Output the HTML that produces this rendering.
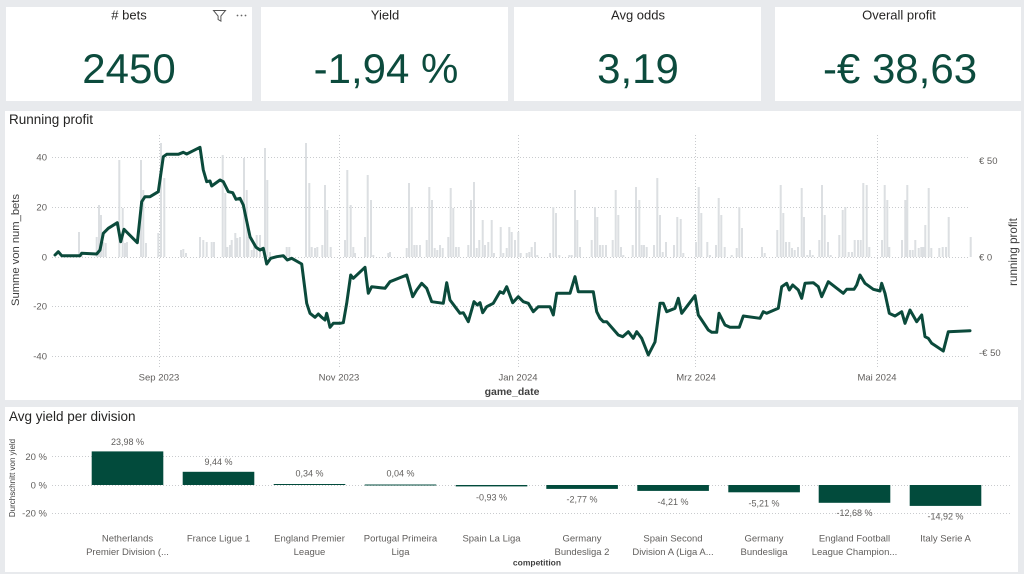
<!DOCTYPE html>
<html><head><meta charset="utf-8"><style>
html,body{margin:0;padding:0;background:#e8eaed;}
svg{display:block;font-family:"Liberation Sans",sans-serif;}
</style></head><body>
<svg width="1024" height="574" viewBox="0 0 1024 574" xmlns="http://www.w3.org/2000/svg">
<rect x="0" y="0" width="1024" height="574" fill="#e8eaed"/>
<!-- KPI cards -->
<rect x="6" y="7" width="246" height="94" fill="#fff"/>
<rect x="261" y="7" width="247" height="94" fill="#fff"/>
<rect x="514" y="7" width="247" height="94" fill="#fff"/>
<rect x="775" y="7" width="246" height="94" fill="#fff"/>
<g font-size="13" fill="#252423" text-anchor="middle">
<text x="129" y="19.5"># bets</text>
<text x="385" y="19.5">Yield</text>
<text x="638" y="19.5">Avg odds</text>
<text x="899" y="19.5">Overall profit</text>
</g>
<g font-size="42" fill="#0c4b3d" text-anchor="middle">
<text x="129" y="83">2450</text>
<text x="386" y="83">-1,94 %</text>
<text x="638" y="83">3,19</text>
<text x="900" y="83">-€ 38,63</text>
</g>
<path d="M213.5 10.5h12l-4.6 5.6v5l-2.8-1.6v-3.4z" fill="none" stroke="#555" stroke-width="1"/>
<g fill="#666"><circle cx="237.5" cy="15.5" r="0.9"/><circle cx="241.5" cy="15.5" r="0.9"/><circle cx="245.5" cy="15.5" r="0.9"/></g>

<!-- Running profit card -->
<rect x="5" y="111" width="1016" height="289" fill="#fff"/>
<text x="9" y="124" font-size="13.5" fill="#252423">Running profit</text>
<!-- gridlines -->
<g stroke="#c9cbce" stroke-width="1" stroke-dasharray="1,2" fill="none">
<path d="M52 157.5H970M52 207.5H970M52 257.5H970M52 306.5H970M52 356.5H970"/>
<path d="M159.5 135V367M339.5 135V367M518.5 135V367M695.5 135V367M877.5 135V367"/>
</g>
<!-- bars -->
<path stroke="#dcdfe2" stroke-width="2" fill="none" d="M79 232V257M81.7 252V257M96.7 237V257M99 205V257M101 215V257M103.3 242V257M105.7 243V257M119.3 160V257M122.7 208V257M125 243V257M127 242V257M141 160V257M143.3 190V257M146 243V257M158.3 233V257M161 143V257M164.3 178V257M181 250V257M183.3 249V257M186 253V257M200 237V257M203.3 240V257M206.7 242V257M211.7 242V257M214 242V257M222.7 155V257M225.3 193V257M227.3 247V257M230 245V257M231.7 240V257M235.3 233V257M237.3 238V257M240 237V257M244 158V257M246.7 190V257M248.3 237V257M251.7 250V257M254 243V257M256.7 235V257M260 235V257M265 148V257M267.3 180V257M270 252V257M286.7 247V257M289.3 247V257M306 143V257M309.3 183V257M311.7 247V257M315 248V257M317.3 247V257M322.3 245V257M325 185V257M327.3 210V257M330.7 247V257M345 240V257M347.3 170V257M350.7 205V257M353.3 247V257M355 253V257M365 237V257M367.7 175V257M371 200V257M373.3 255V257M388.3 253V257M390 252V257M406.7 248V257M409 183V257M411.7 207V257M414.3 245V257M416.7 245V257M420 245V257M426.7 240V257M429.3 187V257M432 200V257M434.7 248V257M437.3 250V257M440 245V257M442.7 248V257M448.3 237V257M450.7 188V257M453.3 208V257M456 247V257M458.7 247V257M468.3 245V257M471 200V257M474 182V257M476.7 248V257M479.3 240V257M482.7 220V257M485 245V257M488.3 242V257M491.7 220V257M494 253V257M500.7 227V257M503.3 253V257M506.7 248V257M509.3 227V257M511.7 232V257M515 240V257M518.3 232V257M520.7 253V257M526.7 253V257M529.3 252V257M531.7 247V257M535 242V257M537.3 255V257M550 253V257M553.3 207V257M556 213V257M559.3 255V257M569.3 255V257M571.7 255V257M575 190V257M577.3 220V257M580 247V257M591.7 240V257M595 207V257M597.3 217V257M600 245V257M602.7 245V257M606 245V257M612.7 240V257M615.7 190V257M618.3 215V257M621 247V257M623.3 255V257M632.7 245V257M636 187V257M639.3 200V257M641.7 245V257M644 245V257M646.7 247V257M654 245V257M657.3 178V257M660 215V257M662.7 252V257M666 242V257M674 245V257M677.3 217V257M680.7 219V257M683.3 253V257M696 242V257M698.7 187V257M701.3 213V257M707.3 242V257M710 255V257M716 245V257M718.7 198V257M721.3 215V257M724.7 247V257M731.7 255V257M736.7 248V257M739.3 207V257M742 228V257M762 247V257M764.7 253V257M777.3 230V257M780.7 185V257M783.3 213V257M786 242V257M789.3 242V257M792 248V257M794.7 250V257M798 247V257M801.7 188V257M804 217V257M807.3 255V257M810 250V257M812.7 255V257M819.3 240V257M822 185V257M824.7 215V257M828 242V257M830.7 255V257M839.3 235V257M842.7 210V257M845.3 207V257M848.7 252V257M852 252V257M854.7 240V257M858 240V257M860.7 240V257M863.3 183V257M866.7 185V257M869.3 247V257M882 240V257M884.7 185V257M887.3 200V257M889.3 247V257M902 240V257M905.3 200V257M907.3 185V257M910 250V257M912.7 250V257M915.3 240V257M918.7 248V257M921.3 247V257M923.3 247V257M925.3 225V257M928.7 188V257M931.3 248V257M939.3 248V257M942.7 247V257M946 247V257M948.7 217V257M970.7 237V257"/>
<!-- line -->
<polyline fill="none" stroke="#0b4a3b" stroke-width="3" stroke-linejoin="round" stroke-linecap="round" points="55,255 58.3,251.7 61.7,255.7 80,255.7 81.7,253.3 96.7,254 100,250 103.3,233.3 108.3,228.3 117.3,222.7 120.7,241.7 124,229.3 137.3,242.7 141.7,201.7 145,196.7 150,196.7 158.3,191.7 163.3,156.7 166.7,154.3 178.3,154.3 183.3,152.3 186.7,154 193.3,150.7 200,147.3 203.3,170 206.7,181.7 210,181 211.7,186 220,180 223.3,181.7 228.3,191.7 232.7,192.7 236,199.3 240,198.3 243.3,205 250,236.7 256,247.3 260,250 263.3,248.3 266.7,264 270.7,258.3 276.7,256.7 283.3,255.7 287.3,260 291.7,258.3 301.7,264 306.7,303.3 310,313.3 315,317.3 318.3,314 321.7,317.3 325,320 326.7,313.3 330,327.3 333.3,323.3 340,323.3 343.3,322.7 346.7,303.3 350.7,275 353.3,278.3 365,267.3 368.3,293.3 371.7,286.7 385,288.3 390,281.7 406.7,275 412.7,296.7 416.7,290 421.7,283.3 426.7,288.3 431.7,301.7 443.3,303.3 446.7,282.7 450,300 455,306.7 460,313.3 463.3,312.7 468.3,321.7 474,301.7 477.3,305 480,302.7 482.7,312.7 486.7,306.7 493.3,303.3 500,291.7 503.3,293.3 506.7,286.7 512.7,302.7 518.3,296.7 523.3,301.7 528.3,303.3 533.3,311.7 538.3,306.7 550,306.7 553.3,315 556.7,293.3 570,293.3 575,276.7 578.3,291.7 593.3,291.7 596.7,311.7 600,318.3 603.3,321.7 606.7,321.7 618.3,335 622.7,336.7 628.3,331.7 633.3,338.3 636.7,331.7 641.7,338.3 648.3,355 655,342 660,303.3 663.3,303.3 666.7,311.7 675,308.3 678.3,298.3 681.7,313.3 695,295.7 698.3,315 701.7,320 708.3,330 711.7,332.3 716.7,332.3 719,313.3 725,325 730,327.3 739.3,327.3 743.3,316 760,318.3 763.3,311.7 766.7,313.3 778.3,308.3 781.7,286.7 786.7,283.3 789.3,290 792.7,285 798.3,290 801.7,298.3 805,283.3 813.3,282.7 818.3,286.7 821.7,296.7 828.3,281.7 843.3,293.3 846.7,289.3 854,289.3 856.7,285 860,275 865,283.3 873.3,289.3 880,291 881.7,283.3 885,293.3 889.3,313.3 895,316 901.7,311.7 905,323.3 910,310 916.7,321.7 921.7,315 925,336.7 928.3,338.3 931.7,343.3 943.3,351 948.3,331.7 970,330.7"/>
<!-- axis labels -->
<g font-size="9.5" fill="#605e5c">
<g text-anchor="end">
<text x="47" y="160.5">40</text>
<text x="47" y="210.5">20</text>
<text x="47" y="260.5">0</text>
<text x="47" y="309.5">-20</text>
<text x="47" y="359.5">-40</text>
</g>
<text x="979" y="164">€ 50</text>
<text x="979" y="260.5">€ 0</text>
<text x="979" y="356">-€ 50</text>
<g text-anchor="middle">
<text x="159" y="380.5">Sep 2023</text>
<text x="339" y="380.5">Nov 2023</text>
<text x="518" y="380.5">Jan 2024</text>
<text x="696" y="380.5">Mrz 2024</text>
<text x="877" y="380.5">Mai 2024</text>
</g>
</g>
<text x="512" y="395" font-size="10.5" font-weight="bold" fill="#404040" text-anchor="middle">game_date</text>
<text transform="translate(19 250) rotate(-90)" font-size="11.2" fill="#404040" text-anchor="middle">Summe von num_bets</text>
<text transform="translate(1017 252) rotate(-90)" font-size="11.6" fill="#404040" text-anchor="middle">running profit</text>

<!-- Avg yield card -->
<rect x="5" y="407" width="1013" height="165" fill="#fff"/>
<text x="9" y="421" font-size="13.5" fill="#252423">Avg yield per division</text>
<g stroke="#c9cbce" stroke-width="1" stroke-dasharray="1,2" fill="none">
<path d="M52 456.5H1012M52 485.5H1012M52 513.5H1012"/>
</g>
<g font-size="9.5" fill="#605e5c" text-anchor="end">
<text x="47" y="460">20 %</text>
<text x="47" y="488.5">0 %</text>
<text x="47" y="516.5">-20 %</text>
</g>
<text transform="translate(15 478) rotate(-90)" font-size="8" fill="#404040" text-anchor="middle">Durchschnitt von yield</text>
<g fill="#024b3c">
<rect x="91.7" y="451.4" width="71.6" height="33.6"/>
<rect x="182.7" y="471.8" width="71.6" height="13.2"/>
<rect x="273.7" y="484" width="71.6" height="1"/>
<rect x="364.7" y="484.5" width="71.6" height="1"/>
<rect x="455.7" y="485" width="71.6" height="1.4"/>
<rect x="546.3" y="485" width="71.6" height="3.9"/>
<rect x="637.3" y="485" width="71.6" height="5.9"/>
<rect x="728.3" y="485" width="71.6" height="7.3"/>
<rect x="818.7" y="485" width="71.6" height="17.8"/>
<rect x="909.7" y="485" width="71.6" height="20.9"/>
</g>
<g font-size="9" fill="#605e5c" text-anchor="middle">
<text x="127.5" y="445">23,98 %</text>
<text x="218.5" y="465">9,44 %</text>
<text x="309.5" y="476.5">0,34 %</text>
<text x="400.5" y="476.5">0,04 %</text>
<text x="491.5" y="500.5">-0,93 %</text>
<text x="582" y="502.5">-2,77 %</text>
<text x="673" y="505">-4,21 %</text>
<text x="764" y="506.5">-5,21 %</text>
<text x="854.5" y="516">-12,68 %</text>
<text x="945.5" y="519.5">-14,92 %</text>
</g>
<g font-size="9.5" fill="#605e5c" text-anchor="middle">
<text x="127.5" y="541.5">Netherlands</text><text x="127.5" y="555">Premier Division (...</text>
<text x="218.5" y="541.5">France Ligue 1</text>
<text x="309.5" y="541.5">England Premier</text><text x="309.5" y="555">League</text>
<text x="400.5" y="541.5">Portugal Primeira</text><text x="400.5" y="555">Liga</text>
<text x="491.5" y="541.5">Spain La Liga</text>
<text x="582" y="541.5">Germany</text><text x="582" y="555">Bundesliga 2</text>
<text x="673" y="541.5">Spain Second</text><text x="673" y="555">Division A (Liga A...</text>
<text x="764" y="541.5">Germany</text><text x="764" y="555">Bundesliga</text>
<text x="854.5" y="541.5">England Football</text><text x="854.5" y="555">League Champion...</text>
<text x="945.5" y="541.5">Italy Serie A</text>
</g>
<text x="537" y="565.5" font-size="8.5" font-weight="bold" fill="#404040" text-anchor="middle">competition</text>
</svg>
</body></html>
